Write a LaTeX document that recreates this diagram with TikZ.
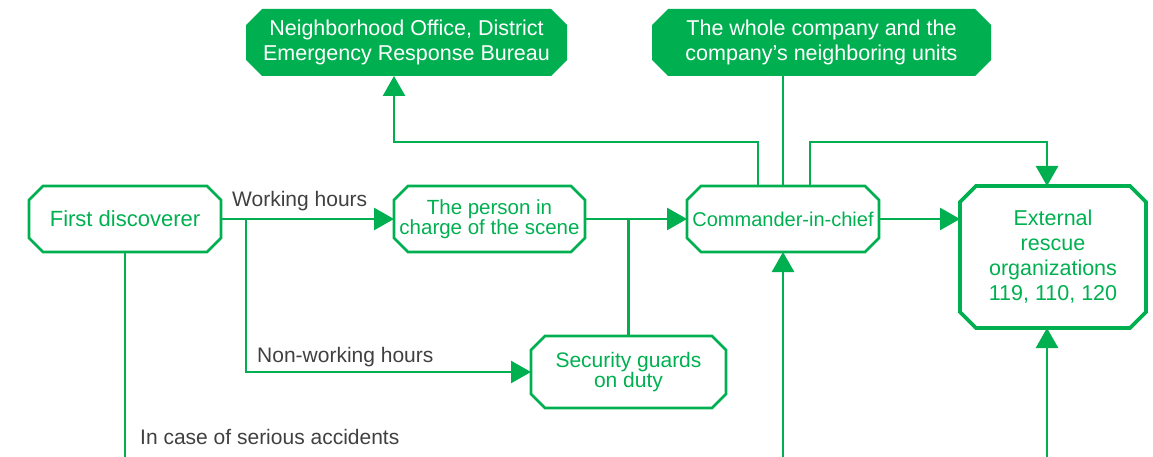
\documentclass[tikz,border=0pt]{standalone}
\usepackage{fontspec}
\setmainfont{Liberation Sans}
\usetikzlibrary{arrows.meta,calc,backgrounds}
\definecolor{flowgreen}{HTML}{00B050}
\definecolor{labelgray}{HTML}{404040}

% octagonal outline of a node: cut corners of size #2
\newcommand\cutcorners[2]{%
  ($(#1.north west)+(#2,0)$) -- ($(#1.north east)+(-#2,0)$) --
  ($(#1.north east)+(0,#2)$) -- ($(#1.south east)+(0,-#2)$) --
  ($(#1.south east)+(-#2,0)$) -- ($(#1.south west)+(#2,0)$) --
  ($(#1.south west)+(0,-#2)$) -- ($(#1.north west)+(0,#2)$) -- cycle}

\tikzset{
  box/.style={inner sep=0pt, outer sep=0pt, align=center, text=flowgreen,
    font=\fontsize{21.5}{25}\selectfont},
  headbox/.style={box, text=white},
  outline/.style={draw=flowgreen, line width=2.6pt, line join=miter},
  heavyoutline/.style={draw=flowgreen, line width=3.8pt, line join=miter},
  solid fill/.style={fill=flowgreen},
  link/.style={draw=flowgreen, line width=2.6pt},
  arr/.style={link, -{Triangle[length=20pt,width=22pt]}},
  note/.style={text=labelgray, font=\fontsize{21}{24}\selectfont,
    anchor=base west, inner sep=0pt},
}

\begin{document}
\begin{tikzpicture}[x=1pt,y=-1pt]
\useasboundingbox (0,0) rectangle (1153,457);

% boxes
\node[headbox, minimum width=321pt, minimum height=67pt] (office) at (406.5,42.5)
  {Neighborhood Office, District\\Emergency Response Bureau};
\node[headbox, minimum width=339pt, minimum height=67pt] (company) at (821.5,42.5)
  {The whole company and the\\company's neighboring units};
\node[box, minimum width=192pt, minimum height=66pt,
  font=\fontsize{22}{25}\selectfont] (first) at (125,219)
  {\raisebox{-3pt}{First discoverer}};
\node[box, minimum width=191pt, minimum height=66pt,
  font=\fontsize{20.5}{19}\selectfont] (person) at (489.5,219)
  {The person in\\charge of the scene};
\node[box, minimum width=192pt, minimum height=66pt,
  font=\fontsize{20}{24}\selectfont] (chief) at (783,219)
  {Commander-in-chief};
\node[box, minimum width=186pt, minimum height=142pt] (rescue) at (1053,257)
  {External\\rescue\\organizations\\119, 110, 120};
\node[box, minimum width=195pt, minimum height=72pt,
  font=\fontsize{21}{20}\selectfont] (guards) at (628.5,372)
  {Security guards\\on duty};

\begin{pgfonlayer}{background}
  \path[solid fill] \cutcorners{office}{16};
  \path[solid fill] \cutcorners{company}{16};
\end{pgfonlayer}
\draw[outline] \cutcorners{first}{14};
\draw[outline] \cutcorners{person}{14};
\draw[outline] \cutcorners{chief}{14};
\draw[heavyoutline] \cutcorners{rescue}{16};
\draw[outline] \cutcorners{guards}{14};

% free ends and junctions
\coordinate (split) at (246,219);
\coordinate (bus) at (0,142);
\coordinate (chiefin) at (783,457);
\coordinate (rescuein) at (1047,457);
\coordinate (serious) at (125,457);

% connectors
\draw[arr] (first.east) -- (person.west);
\draw[arr] (split) |- (guards.west);
\draw[arr] (person.east) -- (chief.west);
\draw[link] (guards.north) -- (guards.north |- person.east);
\draw[arr] (chief.east) -- (chief.east -| rescue.west);
\draw[arr] ([xshift=-25pt]chief.north) |- ([xshift=-12.5pt]office.south |- bus)
  -- ([xshift=-12.5pt]office.south);
\draw[link] (company.south -| chief.north) -- (chief.north);
\draw[arr] ([xshift=27pt]chief.north) |- ([xshift=-6pt]rescue.north |- bus)
  -- ([xshift=-6pt]rescue.north);
\draw[arr] (chiefin) -- (chief.south);
\draw[arr] (rescuein) -- ([xshift=-6pt]rescue.south);
\draw[link] (first.south) -- (serious);

% connector labels
\node[note] (work) at (232,206) {Working hours};
\node[note] (nonwork) at (257,362) {Non-working hours};
\node[note] (accident) at (140,444) {In case of serious accidents};
\end{tikzpicture}
\end{document}
